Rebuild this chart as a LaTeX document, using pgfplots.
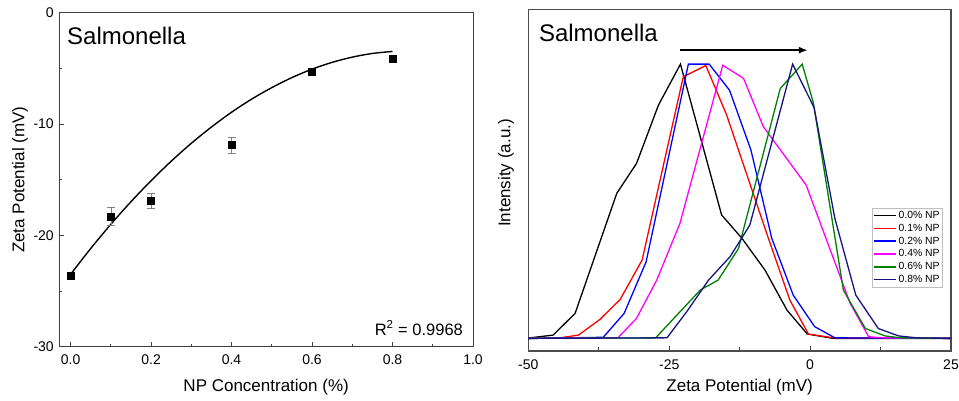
\documentclass[border=0pt]{standalone}
\usepackage{pgfplots}
\pgfplotsset{compat=1.18}
\usepackage{fontspec}
\setmainfont{Liberation Sans}
\usetikzlibrary{arrows.meta}
\definecolor{cblack}{RGB}{0,0,0}
\definecolor{cred}{RGB}{255,0,0}
\definecolor{cblue}{RGB}{0,0,255}
\definecolor{cmag}{RGB}{255,0,255}
\definecolor{cgreen}{RGB}{0,128,0}
\definecolor{cnavy}{RGB}{20,20,128}
\begin{document}
\begin{tikzpicture}[x=1pt,y=1pt]
\useasboundingbox (0,0) rectangle (959,400);
% ---------------- Left panel ----------------
\begin{axis}[
  scale only axis, width=413.7pt, height=334pt,
  at={(59.3pt,53.3pt)}, anchor=south west,
  xmin=-0.028, xmax=1.0, ymin=-30, ymax=0,
  xtick={0,0.2,0.4,0.6,0.8,1.0}, ytick={-30,-20,-10,0},
  minor tick num=1,
  xticklabel style={/pgf/number format/fixed, /pgf/number format/fixed zerofill, /pgf/number format/precision=1},
  tick align=inside, major tick length=5pt, minor tick length=3pt,
  xtick pos=bottom, ytick pos=left,
  axis line style={black!75, line width=1pt},
  tick style={black!75, line width=0.8pt},
  /pgf/number format/assume math mode=true,
  ticklabel style={font=\fontsize{14}{16}\selectfont},
  xticklabel style={yshift=-4pt},
  yticklabel style={xshift=-2pt},
  label style={font=\fontsize{17}{20}\selectfont},
  xlabel={NP Concentration (\%)},
  ylabel={Zeta Potential (mV)},
  xlabel style={at={(axis description cs:0.5,-0.1207)}, anchor=center},
  ylabel style={at={(axis description cs:-0.095,0.5)}, anchor=center},
]
\addplot[black, line width=1.4pt, smooth, no marks] coordinates {
 (0,-23.50) (0.05,-21.18) (0.1,-19.01) (0.15,-16.98) (0.2,-15.09)
 (0.25,-13.34) (0.3,-11.73) (0.35,-10.27) (0.4,-8.94) (0.45,-7.76)
 (0.5,-6.73) (0.55,-5.83) (0.6,-5.07) (0.65,-4.46) (0.7,-3.99)
 (0.75,-3.66) (0.8,-3.48)};
\addplot[only marks, mark=square*, mark size=3.5pt, black,
  error bars/.cd, y dir=both, y explicit,
  error bar style={gray, line width=0.6pt},
  error mark options={gray, rotate=90, mark size=4pt, line width=0.6pt}]
 coordinates {
 (0,-23.65) +- (0,0.2)
 (0.1,-18.3) +- (0,0.8)
 (0.2,-16.9) +- (0,0.7)
 (0.4,-11.9) +- (0,0.7)
 (0.6,-5.27) +- (0,0.2)
 (0.8,-4.16) +- (0,0.2)};
\node[anchor=west, inner sep=0pt, font=\fontsize{24}{28}\selectfont] at (rel axis cs:0.0186,0.930) {Salmonella};
\node[anchor=east, inner sep=0pt, font=\fontsize{16.5}{19}\selectfont] at (rel axis cs:0.976,0.056) {R\textsuperscript{2} = 0.9968};
\end{axis}
% ---------------- Right panel ----------------
\begin{axis}[
  scale only axis, width=422.7pt, height=341.7pt,
  at={(528.3pt,49pt)}, anchor=south west,
  xmin=-50, xmax=25, ymin=-4.6, ymax=120,
  xtick={-50,-25,0,25}, ytick=\empty,
  minor x tick num=1,
  tick align=inside, major tick length=5pt, minor tick length=4pt,
  xtick pos=bottom,
  axis line style={black!70, line width=1.6pt},
  tick style={black!75, line width=0.8pt},
  /pgf/number format/assume math mode=true,
  ticklabel style={font=\fontsize{14}{16}\selectfont},
  xticklabel style={yshift=-5pt},
  label style={font=\fontsize{17}{20}\selectfont},
  xlabel={Zeta Potential (mV)},
  ylabel={Intensity (a.u.)},
  xlabel style={at={(axis description cs:0.5,-0.105)}, anchor=center},
  ylabel style={at={(axis description cs:-0.0528,0.521)}, anchor=center},
  legend style={at={(rel axis cs:0.981,0.4185)}, anchor=north east,
    draw=black!25, line width=0.6pt, inner sep=1pt,
    font=\fontsize{10.4}{12.7}\selectfont, row sep=0pt,
    /tikz/every even column/.append style={column sep=1pt}},
  legend cell align=left,
  legend image code/.code={\draw[#1, line width=1.6pt] plot coordinates {(0pt,0pt) (22pt,0pt)};},
  every axis plot/.append style={line width=1.3pt, no marks},
]
\addplot[cblack] coordinates {
 (-50,0) (-49.7,0.2) (-45.6,1.2) (-41.7,9.1) (-38,31) (-34.3,52.9) (-30.8,63.8)
 (-26.9,85.1) (-23.0,100) (-15.7,45.0) (-12.1,36.5) (-8.0,24.9)
 (-4.1,10.3) (-0.5,1.6) (4.1,0) (25,0)};
\addlegendentry{0.0\% NP}
\addplot[cred] coordinates {
 (-50,0) (-44.4,0.2) (-41.1,1.2) (-37.3,6.9) (-33.7,14.2) (-29.8,28.6)
 (-22.5,95.4) (-18.5,99.5) (-14.8,81.4) (-7.7,38.3) (-3.6,14.0)
 (-0.3,1.6) (4.1,0.2) (25,0)};
\addlegendentry{0.1\% NP}
\addplot[cblue] coordinates {
 (-50,0) (-36.7,0.4) (-33.0,9.1) (-29.1,27.9) (-21.6,100) (-17.9,100)
 (-14.3,90.5) (-10.5,68.7) (-6.8,36.5) (-3.0,15.8) (0.8,4.3)
 (4.4,0.2) (25,0)};
\addlegendentry{0.2\% NP}
\addplot[cmag] coordinates {
 (-50,0) (-34.1,0.2) (-30.8,7.3) (-27.2,21.3) (-23.1,41.9) (-15.5,99.6)
 (-11.8,94.8) (-8.3,77.2) (-0.7,55.9) (7.1,12.8) (10.4,0.6)
 (13.0,0.2) (25,0)};
\addlegendentry{0.4\% NP}
\addplot[cgreen] coordinates {
 (-50,0) (-27.4,0.2) (-19.5,17.6) (-16.3,21.3) (-12.7,32.8) (-5.3,91.1)
 (-1.4,100) (0.6,85.7) (5.9,17.6) (9.8,3.6) (13.3,0.9) (16.0,0.2) (25,0)};
\addlegendentry{0.6\% NP}
\addplot[cnavy] coordinates {
 (-50,0) (-25.4,0.2) (-21.9,9.7) (-18.0,21.3) (-14.2,29.8) (-10.7,41.3)
 (-3.1,100) (0.7,84.2) (4.4,43.7) (8.1,15.8) (12.1,3.6) (15.7,0.9)
 (18.9,0.2) (25,0)};
\addlegendentry{0.8\% NP}
\draw[black, line width=2pt, -{Latex[length=9pt,width=7pt]}] (axis cs:-23.1,105.1) -- (axis cs:-0.4,105.1);
\node[anchor=west, inner sep=0pt, font=\fontsize{24}{28}\selectfont] at (rel axis cs:0.025,0.931) {Salmonella};
\end{axis}
\end{tikzpicture}
\end{document}
